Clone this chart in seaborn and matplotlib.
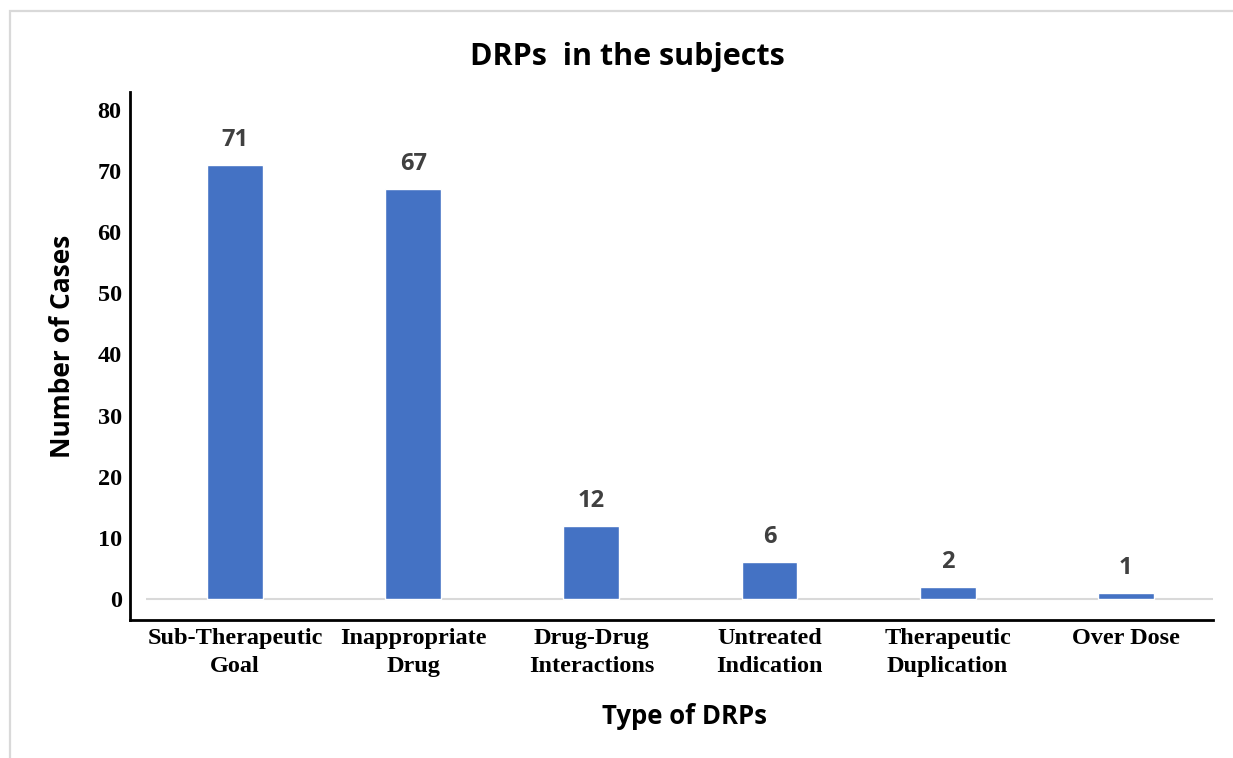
import seaborn as sns
import matplotlib.pyplot as plt
import matplotlib.patches as mpatches
import pandas as pd

# DRP categories and counts
drp_types = ["Sub-Therapeutic\nGoal", "Inappropriate\nDrug", "Drug-Drug\nInteractions",
             "Untreated\nIndication", "Therapeutic\nDuplication", "Over Dose"]
n_cases = [71, 67, 12, 6, 2, 1]
y_ticks = [0, 10, 20, 30, 40, 50, 60, 70, 80]

df = pd.DataFrame({"type": drp_types, "cases": n_cases})

sns.set_style("white")
W, H = 1233, 758
fig = plt.figure(figsize=(W / 100, H / 100), dpi=100)

# light grey frame around the chart area
fig.patches.append(mpatches.Rectangle((10 / W, -0.1), 1.2, (H - 11) / H + 0.1,
                                      transform=fig.transFigure, fill=False,
                                      edgecolor="#d9d9d9", linewidth=1.6))

ax = fig.add_axes([130 / W, (H - 620) / H, (1213 - 130) / W, (620 - 92) / H])
sns.barplot(data=df, x="type", y="cases", color="#4472C4", saturation=1,
            width=0.314, ax=ax, zorder=3)

ax.set_xlim(-0.59, 5.49)
ax.set_ylim(-3.436, 82.94)
ax.hlines(0, -0.5, 5.5, color="#d9d9d9", linewidth=1.5, zorder=2)

for i, v in enumerate(n_cases):
    ax.annotate(str(v), (i, v), xytext=(0, 18), textcoords="offset points",
                ha="center", va="center", fontsize=17, fontweight="bold",
                color="#404040", family="Open Sans")

for s in ["top", "right"]:
    ax.spines[s].set_visible(False)
for s in ["left", "bottom"]:
    ax.spines[s].set_color("black")
    ax.spines[s].set_linewidth(2)

ax.set_yticks(y_ticks)
ax.tick_params(axis="both", length=0)
ax.tick_params(axis="y", pad=6)
ax.tick_params(axis="x", pad=6)
for lab in ax.get_yticklabels() + ax.get_xticklabels():
    lab.set_family("Liberation Serif")
    lab.set_fontweight("bold")
    lab.set_fontsize(17.5)
    lab.set_color("black")
    lab.set_linespacing(1.4)

ax.set_xlabel("")
ax.set_ylabel("")
fig.text(685 / W, 1 - 717 / H, "Type of DRPs", ha="center", va="center",
         fontsize=18.5, fontweight="bold", family="Open Sans", color="black")
fig.text(63 / W, 1 - 346 / H, "Number of Cases", ha="center", va="center", rotation=90,
         fontsize=19, fontweight="bold", family="Open Sans", color="black")
fig.text(627 / W, 1 - 57 / H, "DRPs  in the subjects", ha="center", va="center",
         fontsize=22, fontweight="bold", family="Open Sans", color="black")

fig.savefig("out.png", dpi=100)
